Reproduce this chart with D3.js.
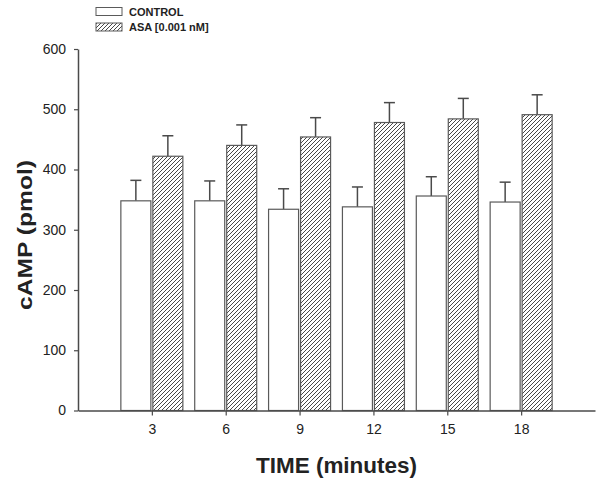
<!DOCTYPE html>
<html>
<head>
<meta charset="utf-8">
<script src="https://cdn.jsdelivr.net/npm/d3@7/dist/d3.min.js"></script>
<style>
  body { margin: 0; background: #fff; }
  text { font-family: "Liberation Sans", Arial, sans-serif; }
</style>
</head>
<body>
<svg id="chart" width="600" height="482"></svg>
<script>
const times = [3, 6, 9, 12, 15, 18];
const controlMean = [348, 348, 334, 338, 356, 346];
const controlErr = [34, 33, 34, 33, 32, 33];
const asaMean = [422, 440, 454, 478, 484, 491];
const asaErr = [34, 34, 32, 33, 34, 33];
const yTicks = [0, 100, 200, 300, 400, 500, 600];
const seriesNames = ["CONTROL", "ASA [0.001 nM]"];

const svg = d3.select("#chart");
const axisColor = "#4a4a4a";
const barStroke = "#5a5a5a";

const x = d3.scaleLinear().domain([0, 21]).range([78, 595]);
const y = d3.scaleLinear().domain([0, 600]).range([410.5, 49]);

// hatch pattern
const defs = svg.append("defs");
const pat = defs.append("pattern")
  .attr("id", "hatch")
  .attr("patternUnits", "userSpaceOnUse")
  .attr("width", 4).attr("height", 4);
pat.append("rect").attr("width", 4).attr("height", 4).attr("fill", "#fff");
pat.append("path")
  .attr("d", "M-1,1 l2,-2 M0,4 l4,-4 M3,5 l2,-2")
  .attr("stroke", "#333").attr("stroke-width", 0.9);

const barW = 30 / (x(1) - x(0)); // width in data units
const gap = 1 / (x(1) - x(0));

const series = [
  { mean: controlMean, err: controlErr, fill: "#fff", off: -gap - barW },
  { mean: asaMean, err: asaErr, fill: "url(#hatch)", off: gap }
];

series.forEach(s => {
  const g = svg.append("g");
  times.forEach((t, i) => {
    const x0 = x(t + s.off), x1 = x(t + s.off + barW);
    const cx = (x0 + x1) / 2;
    g.append("line")
      .attr("x1", cx).attr("x2", cx)
      .attr("y1", y(s.mean[i])).attr("y2", y(s.mean[i] + s.err[i]))
      .attr("stroke", axisColor).attr("stroke-width", 1.5);
    g.append("line")
      .attr("x1", cx - 5.5).attr("x2", cx + 5.5)
      .attr("y1", y(s.mean[i] + s.err[i])).attr("y2", y(s.mean[i] + s.err[i]))
      .attr("stroke", axisColor).attr("stroke-width", 1.5);
    g.append("rect")
      .attr("x", x0).attr("width", x1 - x0)
      .attr("y", y(s.mean[i])).attr("height", y(0) - y(s.mean[i]))
      .attr("fill", s.fill)
      .attr("stroke", barStroke).attr("stroke-width", 1.2);
  });
});

// axes
const yAxis = d3.axisLeft(y).tickValues(yTicks).tickSize(4).tickPadding(8).tickSizeOuter(0);
const yg = svg.append("g").attr("transform", `translate(${x(0)},0)`).call(yAxis);
const xAxis = d3.axisBottom(x).tickValues(times).tickSize(5).tickPadding(9).tickSizeOuter(0);
const xg = svg.append("g").attr("transform", `translate(0,${y(0)})`).call(xAxis);
[yg, xg].forEach(g => {
  g.select(".domain").attr("stroke", axisColor).attr("stroke-width", 1.5);
  g.selectAll(".tick line").attr("stroke", axisColor).attr("stroke-width", 1.2);
  g.selectAll(".tick text").attr("fill", "#222").style("font-size", "14px")
    .style("font-family", "'Liberation Sans', Arial, sans-serif");
});

// axis titles
svg.append("text")
  .attr("transform", `translate(32,235) rotate(-90)`)
  .attr("text-anchor", "middle")
  .attr("textLength", 150).attr("lengthAdjust", "spacingAndGlyphs")
  .style("font-size", "21px").style("font-weight", "bold").attr("fill", "#222")
  .text("cAMP (pmol)");
svg.append("text")
  .attr("x", (x(0) + x(21)) / 2).attr("y", 473)
  .attr("text-anchor", "middle")
  .attr("textLength", 161).attr("lengthAdjust", "spacingAndGlyphs")
  .style("font-size", "22px").style("font-weight", "bold").attr("fill", "#222")
  .text("TIME (minutes)");

// legend
const legFills = ["#fff", "url(#hatch)"];
seriesNames.forEach((name, i) => {
  const ly = 7.5 + i * 15.5;
  svg.append("rect").attr("x", 96).attr("y", ly).attr("width", 26).attr("height", 8)
    .attr("fill", legFills[i]).attr("stroke", barStroke).attr("stroke-width", 1);
  svg.append("text").attr("x", 129).attr("y", ly + 8)
    .style("font-size", "11px").style("font-weight", "bold").attr("fill", "#222")
    .text(name);
});
</script>
</body>
</html>
